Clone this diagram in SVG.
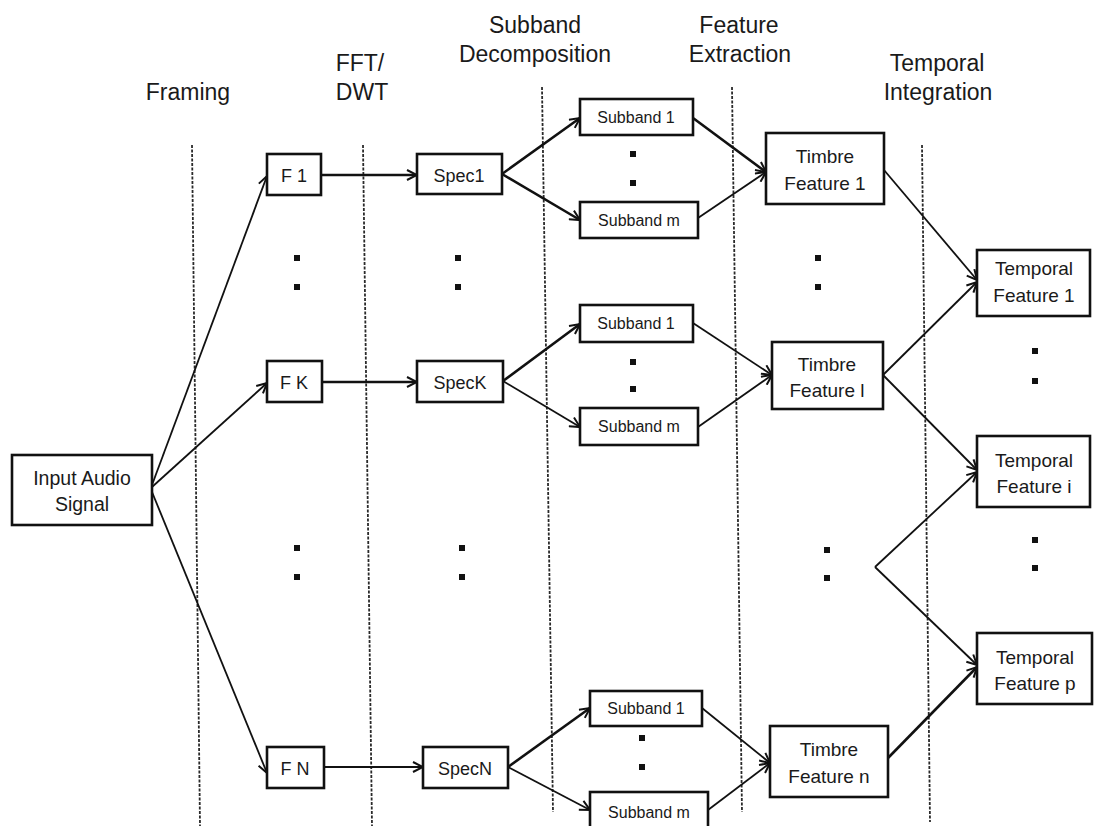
<svg xmlns="http://www.w3.org/2000/svg" width="1094" height="826" viewBox="0 0 1094 826">
  <defs>
    <marker id="arr" viewBox="0 0 12 12" refX="11" refY="6" markerWidth="12" markerHeight="12" markerUnits="userSpaceOnUse" orient="auto">
      <path d="M1,1 L11,6 L1,11" fill="none" stroke="#111" stroke-width="2"/>
    </marker>
    <style>
      text { font-family: "Liberation Sans", Arial, sans-serif; fill: #1a1a1a; text-anchor: middle; }
      .hdr { font-size: 23px; }
      .box { fill: #fff; stroke: #111; stroke-width: 2.6; }
      .lbl { font-size: 18px; }
      .sub { font-size: 16px; }
      .big { font-size: 19px; }
      .sep { fill: none; stroke: #2a2a2a; stroke-width: 1.8; stroke-dasharray: 3 1.5; }
      .c1 { fill: none; stroke: #111; stroke-width: 1.8; marker-end: url(#arr); }
      .c2 { fill: none; stroke: #111; stroke-width: 2.6; marker-end: url(#arr); }
      .dot { fill: #111; }
    </style>
  </defs>

  <!-- stage headings -->
  <g id="headings">
    <text class="hdr" x="188" y="100">Framing</text>
    <text class="hdr" x="360" y="71">FFT/</text>
    <text class="hdr" x="362" y="100">DWT</text>
    <text class="hdr" x="535" y="33">Subband</text>
    <text class="hdr" x="535" y="62">Decomposition</text>
    <text class="hdr" x="739" y="33">Feature</text>
    <text class="hdr" x="740" y="62">Extraction</text>
    <text class="hdr" x="937" y="71">Temporal</text>
    <text class="hdr" x="938" y="100">Integration</text>
  </g>

  <!-- stage separators -->
  <g id="separators">
    <line class="sep" x1="192" y1="145" x2="200" y2="826"/>
    <line class="sep" x1="363" y1="145" x2="372" y2="826"/>
    <line class="sep" x1="542" y1="87" x2="553" y2="812"/>
    <line class="sep" x1="732" y1="87" x2="742" y2="812"/>
    <line class="sep" x1="922" y1="145" x2="930" y2="822"/>
  </g>

  <!-- connectors -->
  <g id="connectors">
    <line class="c1" x1="152" y1="485" x2="267" y2="176"/>
    <line class="c1" x1="152" y1="487" x2="267" y2="383"/>
    <line class="c1" x1="152" y1="492" x2="267" y2="773"/>

    <line class="c2" x1="321" y1="175" x2="417" y2="175"/>
    <line class="c2" x1="322" y1="382" x2="417" y2="382"/>
    <line class="c1" x1="324" y1="767" x2="423" y2="767"/>

    <line class="c2" x1="502" y1="174" x2="580" y2="118"/>
    <line class="c2" x1="502" y1="174" x2="580" y2="220"/>
    <line class="c2" x1="503" y1="381" x2="580" y2="324"/>
    <line class="c1" x1="503" y1="381" x2="580" y2="427"/>
    <line class="c2" x1="508" y1="767" x2="590" y2="708"/>
    <line class="c1" x1="508" y1="767" x2="590" y2="810"/>

    <line class="c2" x1="693" y1="118" x2="766" y2="172"/>
    <line class="c1" x1="698" y1="218" x2="766" y2="172"/>
    <line class="c1" x1="693" y1="323" x2="772" y2="375"/>
    <line class="c1" x1="698" y1="427" x2="772" y2="375"/>
    <line class="c1" x1="702" y1="708" x2="770" y2="763"/>
    <line class="c1" x1="708" y1="810" x2="770" y2="763"/>

    <line class="c1" x1="884" y1="170" x2="977" y2="280"/>
    <line class="c1" x1="883" y1="375" x2="977" y2="282"/>
    <line class="c1" x1="883" y1="375" x2="977" y2="470"/>
    <line class="c1" x1="875" y1="567" x2="977" y2="472"/>
    <line class="c1" x1="875" y1="567" x2="977" y2="665"/>
    <line class="c2" x1="888" y1="758" x2="977" y2="667"/>
  </g>

  <!-- nodes -->
  <g id="input">
    <rect class="box" x="12" y="455" width="140" height="70"/>
    <text class="lbl" x="82" y="485" style="font-size:19.5px">Input Audio</text>
    <text class="lbl" x="82" y="511" style="font-size:19.5px">Signal</text>
  </g>

  <g id="frame-1"><rect class="box" x="267" y="154" width="54" height="41"/><text class="lbl" x="294" y="182">F 1</text></g>
  <g id="frame-k"><rect class="box" x="267" y="361" width="55" height="41"/><text class="lbl" x="294" y="389">F K</text></g>
  <g id="frame-n"><rect class="box" x="267" y="747" width="57" height="41"/><text class="lbl" x="295" y="775">F N</text></g>

  <g id="spec-1"><rect class="box" x="417" y="154" width="85" height="40"/><text class="lbl" x="459" y="182">Spec1</text></g>
  <g id="spec-k"><rect class="box" x="417" y="361" width="86" height="41"/><text class="lbl" x="460" y="389">SpecK</text></g>
  <g id="spec-n"><rect class="box" x="423" y="747" width="85" height="41"/><text class="lbl" x="465" y="775">SpecN</text></g>

  <g id="sub-1-1"><rect class="box" x="580" y="99" width="113" height="36"/><text class="sub" x="636" y="123">Subband 1</text></g>
  <g id="sub-1-m"><rect class="box" x="580" y="202" width="118" height="36"/><text class="sub" x="639" y="226">Subband m</text></g>
  <g id="sub-k-1"><rect class="box" x="580" y="305" width="113" height="37"/><text class="sub" x="636" y="329">Subband 1</text></g>
  <g id="sub-k-m"><rect class="box" x="580" y="408" width="118" height="37"/><text class="sub" x="639" y="432">Subband m</text></g>
  <g id="sub-n-1"><rect class="box" x="590" y="691" width="112" height="35"/><text class="sub" x="646" y="714">Subband 1</text></g>
  <g id="sub-n-m"><rect class="box" x="590" y="792" width="118" height="40"/><text class="sub" x="649" y="818">Subband m</text></g>

  <g id="timbre-1"><rect class="box" x="766" y="133" width="118" height="71"/><text class="big" x="825" y="163">Timbre</text><text class="big" x="825" y="190">Feature 1</text></g>
  <g id="timbre-l"><rect class="box" x="772" y="342" width="111" height="67"/><text class="big" x="827" y="371">Timbre</text><text class="big" x="827" y="397">Feature l</text></g>
  <g id="timbre-n"><rect class="box" x="770" y="726" width="118" height="71"/><text class="big" x="829" y="756">Timbre</text><text class="big" x="829" y="783">Feature n</text></g>

  <g id="temporal-1"><rect class="box" x="977" y="250" width="113" height="66"/><text class="big" x="1034" y="275">Temporal</text><text class="big" x="1034" y="302">Feature 1</text></g>
  <g id="temporal-i"><rect class="box" x="977" y="436" width="113" height="71"/><text class="big" x="1034" y="467">Temporal</text><text class="big" x="1034" y="493">Feature i</text></g>
  <g id="temporal-p"><rect class="box" x="977" y="633" width="115" height="71"/><text class="big" x="1035" y="664">Temporal</text><text class="big" x="1035" y="690">Feature p</text></g>

  <!-- ellipsis dots -->
  <g id="ellipses" class="dot">
    <rect x="294" y="255" width="6" height="6"/><rect x="294" y="284" width="6" height="6"/>
    <rect x="294" y="545" width="6" height="6"/><rect x="294" y="574" width="6" height="6"/>
    <rect x="455" y="255" width="6" height="6"/><rect x="455" y="284" width="6" height="6"/>
    <rect x="459" y="545" width="6" height="6"/><rect x="459" y="574" width="6" height="6"/>
    <rect x="630" y="151" width="6" height="6"/><rect x="630" y="180" width="6" height="6"/>
    <rect x="630" y="359" width="6" height="6"/><rect x="630" y="386" width="6" height="6"/>
    <rect x="639" y="735" width="6" height="6"/><rect x="639" y="764" width="6" height="6"/>
    <rect x="815" y="255" width="6" height="6"/><rect x="815" y="284" width="6" height="6"/>
    <rect x="824" y="547" width="6" height="6"/><rect x="824" y="575" width="6" height="6"/>
    <rect x="1032" y="348" width="6" height="6"/><rect x="1032" y="378" width="6" height="6"/>
    <rect x="1032" y="537" width="6" height="6"/><rect x="1032" y="565" width="6" height="6"/>
  </g>
</svg>
